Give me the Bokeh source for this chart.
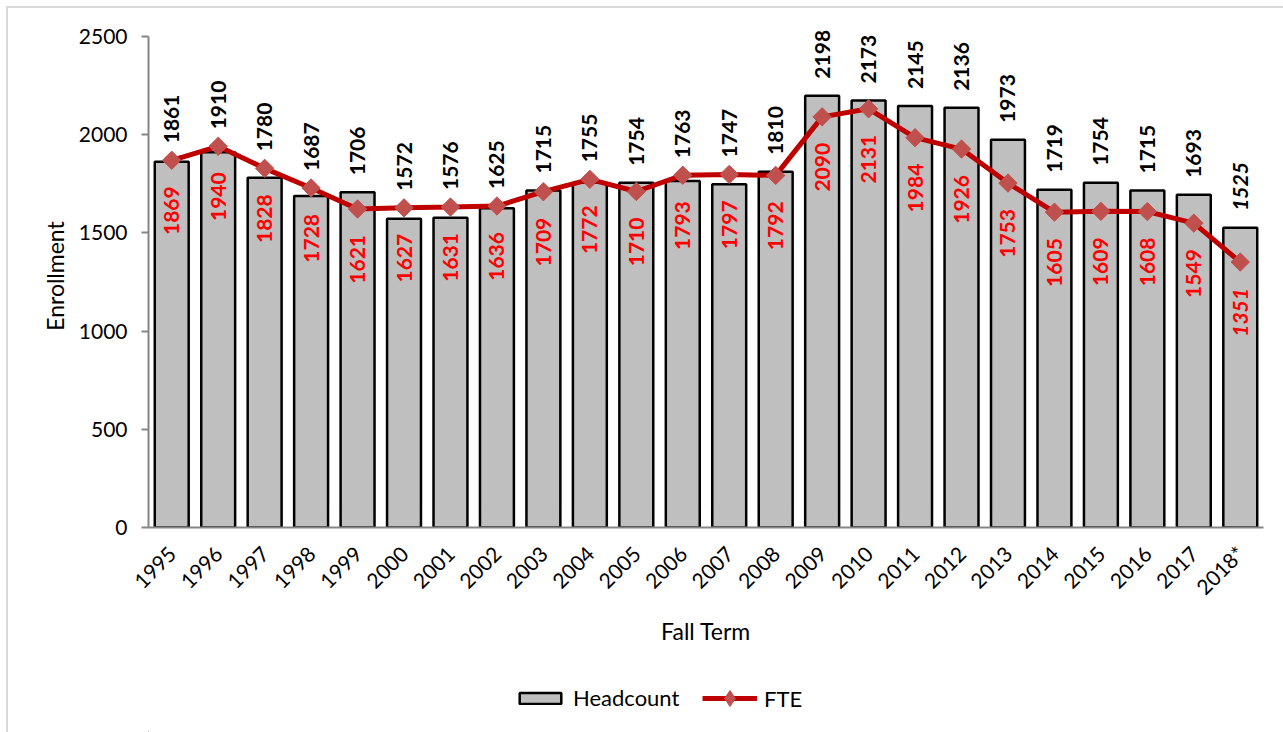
from math import pi

from bokeh.core.properties import value
from bokeh.embed import file_html
from bokeh.layouts import column
from bokeh.models import (ColumnDataSource, FactorRange, FixedTicker, LabelSet,
                          Legend, LegendItem, Range1d)
from bokeh.plotting import figure
from bokeh.resources import INLINE

# Fall-term enrollment
years = ["1995", "1996", "1997", "1998", "1999", "2000", "2001", "2002",
         "2003", "2004", "2005", "2006", "2007", "2008", "2009", "2010",
         "2011", "2012", "2013", "2014", "2015", "2016", "2017", "2018*"]
headcount = [1861, 1910, 1780, 1687, 1706, 1572, 1576, 1625, 1715, 1755,
             1754, 1763, 1747, 1810, 2198, 2173, 2145, 2136, 1973, 1719,
             1754, 1715, 1693, 1525]
fte = [1869, 1940, 1828, 1728, 1621, 1627, 1631, 1636, 1709, 1772,
       1710, 1793, 1797, 1792, 2090, 2131, 1984, 1926, 1753, 1605,
       1609, 1608, 1549, 1351]
y_ticks = [0, 500, 1000, 1500, 2000, 2500]

FONT = "Lato"
BAR_STYLE = dict(fill_color="#BFBFBF", line_color="black", line_width=2.5)
LINE_STYLE = dict(line_color="#C00000", line_width=5)
MARK_COLOR = dict(fill_color="#C0504D", line_color="#C0504D")

source = ColumnDataSource(dict(
    year=years,
    hc=headcount,
    fte=fte,
    hc_txt=[str(v) for v in headcount],
    fte_txt=[str(v) for v in fte],
    # headcount label sits above whichever is higher: the bar or the FTE marker
    hc_anchor=[max(h, f) for h, f in zip(headcount, fte)],
    style=["italic bold" if y.endswith("*") else "bold" for y in years],
))

# a little head-room above 2500 so the tallest labels are not clipped;
# the axis line itself stops at 2500
p = figure(
    x_range=FactorRange(*years, range_padding=0),
    y_range=Range1d(0, 2560),
    width=1275, height=652,
    output_backend="svg", toolbar_location=None,
    min_border_left=140, min_border_right=20,
    min_border_top=16, min_border_bottom=133,
)
p.outline_line_color = None
p.background_fill_color = "white"
p.border_fill_color = "white"
p.xgrid.grid_line_color = None
p.ygrid.grid_line_color = None

p.vbar(x="year", top="hc", width=0.73, source=source, **BAR_STYLE)
p.line(x="year", y="fte", source=source, **LINE_STYLE)
# diamonds: squares turned by 45 degrees
p.scatter(x="year", y="fte", source=source, marker="square", size=13,
          angle=pi / 4, **MARK_COLOR)

hc_labels = LabelSet(x="year", y="hc_anchor", text="hc_txt", source=source,
                     angle=pi / 2, text_align="left", text_baseline="middle",
                     y_offset=17, text_font=value(FONT), text_font_size="21px",
                     text_font_style="style", text_color="black")
fte_labels = LabelSet(x="year", y="fte", text="fte_txt", source=source,
                      angle=pi / 2, text_align="right", text_baseline="middle",
                      y_offset=-26, text_font=value(FONT), text_font_size="21px",
                      text_font_style="style", text_color="#FF0000")
p.add_layout(hc_labels)
p.add_layout(fte_labels)

# axes
ax_col = "#868686"
p.xaxis.axis_label = "Fall Term"
p.xaxis.major_label_orientation = pi / 4
p.xaxis.major_tick_line_color = None
p.xaxis.minor_tick_line_color = None
p.xaxis.axis_line_color = ax_col
p.xaxis.axis_line_width = 2
p.xaxis.major_label_standoff = 16
p.xaxis.axis_label_standoff = 6

p.yaxis.axis_label = "Enrollment"
p.yaxis.ticker = FixedTicker(ticks=y_ticks)
p.yaxis.bounds = (0, 2500)
p.yaxis.minor_tick_line_color = None
p.yaxis.major_tick_in = 0
p.yaxis.major_tick_out = 7
p.yaxis.major_tick_line_color = ax_col
p.yaxis.major_tick_line_width = 2
p.yaxis.axis_line_color = ax_col
p.yaxis.axis_line_width = 2
p.yaxis.major_label_standoff = 14
p.yaxis.axis_label_standoff = 7

for ax in (p.xaxis, p.yaxis):
    ax.major_label_text_font = FONT
    ax.major_label_text_font_size = "21px"
    ax.major_label_text_color = "black"
    ax.axis_label_text_font = FONT
    ax.axis_label_text_font_size = "23px"
    ax.axis_label_text_font_style = "normal"
    ax.axis_label_text_color = "black"

# legend strip under the chart; its proxy glyphs sit outside the visible range
lp = figure(
    width=1275, height=72,
    x_range=Range1d(0, 1), y_range=Range1d(0, 1),
    x_axis_type=None, y_axis_type=None,
    output_backend="svg", toolbar_location=None, min_border=0,
)
lp.outline_line_color = None
lp.grid.visible = False
leg_bar = lp.vbar(x=[-5], top=[-5], bottom=[-6], width=0.5, **BAR_STYLE)
leg_line = lp.line(x=[-6, -5], y=[-5, -5], **LINE_STYLE)
leg_mark = lp.scatter(x=[-5], y=[-5], marker="diamond", size=16, **MARK_COLOR)

LEGEND_TEXT = dict(
    orientation="horizontal", label_standoff=7, padding=0, margin=0,
    border_line_color=None, background_fill_alpha=0,
    label_text_font=FONT, label_text_font_size="22px",
    label_text_color="black",
)
# bar entry: flat box; line entry: taller glyph cell so the diamond keeps its size
leg_hc = Legend(items=[LegendItem(label="Headcount", renderers=[leg_bar])],
                location=(366, 21), glyph_width=52, glyph_height=14,
                **LEGEND_TEXT)
leg_fte = Legend(items=[LegendItem(label="FTE", renderers=[leg_line, leg_mark])],
                 location=(554, 14), glyph_width=55, glyph_height=40,
                 **LEGEND_TEXT)
lp.add_layout(leg_hc)
lp.add_layout(leg_fte)

page = column(p, lp, spacing=0, margin=(8, 0, 0, 8),
              styles={"outline": "2px solid #d9d9d9"})

open("out.html", "w").write(file_html(page, INLINE))
